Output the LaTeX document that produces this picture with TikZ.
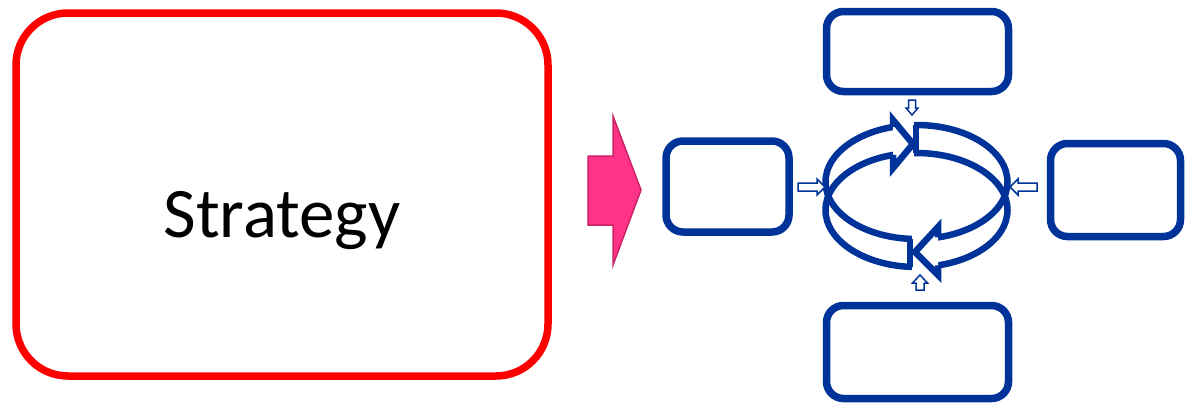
\documentclass[tikz,border=0pt]{standalone}
\usepackage{fontspec}
\setmainfont{Carlito}
\definecolor{ringblue}{RGB}{0,51,153}
\definecolor{stratred}{RGB}{255,0,0}
\definecolor{pinkfill}{RGB}{255,51,136}
\definecolor{pinkline}{RGB}{204,34,102}
\tikzset{
  redbox/.style={draw=stratred, line width=7.5pt, rounded corners=52pt, minimum width=532pt, minimum height=363pt},
  bluebox/.style={draw=ringblue, line width=7.5pt, rounded corners=17pt},
  ringline/.style={draw=ringblue, line width=6.5pt},
  hollowarrow/.style={draw=ringblue, fill=white, line width=1.5pt}
}

\begin{document}
\begin{tikzpicture}[x=1pt, y=-1pt]
        \useasboundingbox (0,0) rectangle (1190,405);

        \node (strategy) [redbox] at (282,194.5) {};
        \node (strategytext) [anchor=base, font=\fontsize{71}{85}\selectfont] at (282,237) {Strategy};

        % pink block arrow
        \draw[fill=pinkfill, draw=pinkline, line width=1.5pt]
            (588,156) -- (613,156) -- (613,116) -- (641,190) -- (613,265) -- (613,225) -- (588,225) -- cycle;

        \node (topbox) [bluebox, minimum width=182pt, minimum height=80pt] at (917.5,51.5) {};
        \node (leftbox) [bluebox, minimum width=123pt, minimum height=91pt] at (727.5,186.5) {};
        \node (rightbox) [bluebox, minimum width=130pt, minimum height=93pt] at (1115.5,190) {};
        \node (bottombox) [bluebox, minimum width=182pt, minimum height=93pt] at (917.5,352) {};

        % the ring
        \draw[ringline] (916.5,182) ellipse [x radius=91, y radius=57];
        \draw[ringline] (916.5,210) ellipse [x radius=91, y radius=57];

        % head at the top, pointing right
        \fill[white] (894,116) rectangle (914,162);
        \fill[white] (893,120) -- (913,144) -- (893,168) -- cycle;
        \draw[ringline, line join=miter] (893,126.9) -- (893,120) -- (913,144) -- (893,168) -- (893,154.9);
        \draw[ringline] (916,125) -- (916,153);

        % head at the bottom, pointing left
        \fill[white] (912,232) rectangle (937.5,272);
        \fill[white] (938,227) -- (915,252) -- (938,275) -- cycle;
        \draw[ringline, line join=miter] (938,237.4) -- (938,227) -- (915,252) -- (938,275) -- (938,265.4);
        \draw[ringline] (910,239) -- (910,267);

        % small hollow arrows
        \draw[hollowarrow] (798,183) -- (817,183) -- (817,179) -- (825,187) -- (817,195) -- (817,191) -- (798,191) -- cycle;
        \draw[hollowarrow] (1037,183) -- (1018,183) -- (1018,179) -- (1010,187) -- (1018,195) -- (1018,191) -- (1037,191) -- cycle;
        \draw[hollowarrow] (908.5,100) -- (908.5,108) -- (906,108) -- (912,115) -- (918,108) -- (915.5,108) -- (915.5,100) -- cycle;
        \draw[hollowarrow] (916,290) -- (916,283) -- (912.5,283) -- (920,275) -- (927.5,283) -- (924,283) -- (924,290) -- cycle;
\end{tikzpicture}
\end{document}
